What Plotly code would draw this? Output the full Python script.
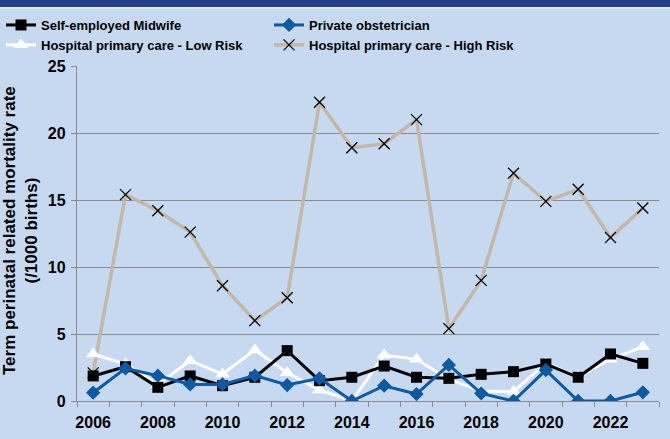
import plotly.graph_objects as go

years = list(range(2006, 2024))
midwife = [1.87, 2.56, 1.02, 1.87, 1.14, 1.77, 3.76, 1.52, 1.77, 2.61, 1.77, 1.69, 1.99, 2.19, 2.76, 1.77, 3.51, 2.81]
private_obst = [0.62, 2.44, 1.89, 1.24, 1.24, 1.89, 1.19, 1.69, 0.0, 1.14, 0.52, 2.69, 0.57, 0.0, 2.31, 0.0, 0.0, 0.65]
low_risk = [3.51, 2.76, 1.24, 3.01, 2.01, 3.81, 2.11, 0.82, 0.0, 3.43, 3.11, 1.62, 0.75, 0.70, 2.81, 1.82, 3.11, 4.05]
high_risk = [2.1, 15.4, 14.2, 12.6, 8.6, 6.0, 7.7, 22.3, 18.9, 19.2, 21.0, 5.4, 9.0, 17.0, 14.9, 15.8, 12.2, 14.4]
series_names = ["Self-employed Midwife", "Private obstetrician",
                "Hospital primary care - Low Risk", "Hospital primary care - High Risk"]
x_labels = [str(y) for y in range(2006, 2024, 2)]
y_ticks = [0, 5, 10, 15, 20, 25]
y_title = "Term perinatal related mortality rate<br>(/1000 births)"

BG = "#c6d9f0"
FONT = "Liberation Sans, Arial, sans-serif"

fig = go.Figure()
fig.add_trace(go.Scatter(x=years, y=high_risk, name=series_names[3], mode="lines+markers",
                         line=dict(color="#c4b7a8", width=3.5),
                         marker=dict(symbol="x-thin", size=11, line=dict(color="black", width=1.3)),
                         legendrank=4))
fig.add_trace(go.Scatter(x=years, y=low_risk, name=series_names[2], mode="lines+markers",
                         line=dict(color="white", width=3),
                         marker=dict(symbol="triangle-up", size=13, color="white"),
                         legendrank=3))
fig.add_trace(go.Scatter(x=years, y=midwife, name=series_names[0], mode="lines+markers",
                         line=dict(color="black", width=3),
                         marker=dict(symbol="square", size=11, color="black"),
                         legendrank=1))
fig.add_trace(go.Scatter(x=years, y=private_obst, name=series_names[1], mode="lines+markers",
                         line=dict(color="#0b5aa6", width=3),
                         marker=dict(symbol="diamond", size=11, color="#0b5aa6"),
                         legendrank=2))

plot_h = 401 - 66
plot_w = 659 - 77
def py(pix):
    return (401 - pix) / plot_h
def px(pix):
    return (pix - 77) / plot_w

fig.update_layout(
    width=670, height=439,
    margin=dict(l=77, r=11, t=66, b=38, autoexpand=False),
    paper_bgcolor=BG, plot_bgcolor=BG,
    font=dict(family=FONT, color="black"),
    showlegend=True,
    legend=dict(orientation="h", x=px(1), y=py(10),
                xanchor="left", yanchor="top", entrywidth=223, entrywidthmode="pixels",
                itemwidth=30, bgcolor="rgba(0,0,0,0)",
                font=dict(family=FONT, size=13, color="black", weight="bold"),
                traceorder="normal", tracegroupgap=0),
    xaxis=dict(range=[2005.5, 2023.5], tickvals=[int(v) for v in x_labels], ticktext=x_labels,
               ticks="", showgrid=False, zeroline=False, ticklabelstandoff=7,
               showline=True, linecolor="#8a8a8a", linewidth=1.3,
               tickfont=dict(size=16, family=FONT, weight="bold"),
               minor=dict(tick0=2005.5, dtick=1, ticks="outside", ticklen=5,
                          tickcolor="#8a8a8a", tickwidth=1.3, showgrid=False)),
    yaxis=dict(range=[0, 25], tickvals=y_ticks, ticks="outside", ticklen=5,
               tickcolor="#8a8a8a", tickwidth=1.3, ticklabelstandoff=2,
               showgrid=True, gridcolor="#8c8c8c", gridwidth=1.3, zeroline=False,
               showline=True, linecolor="#8a8a8a", linewidth=1.3,
               tickfont=dict(size=16, family=FONT, weight="bold")),
    annotations=[dict(text=y_title, textangle=-90, xref="paper", yref="paper",
                      x=px(20), y=py(231), xanchor="center", yanchor="middle",
                      showarrow=False, font=dict(size=17, family=FONT, weight="bold"))],
    shapes=[
        dict(type="rect", xref="paper", yref="paper", x0=-0.2, x1=1.1,
             y0=py(7), y1=py(-2), fillcolor="#21418a", line=dict(width=0), layer="above"),
        dict(type="rect", xref="paper", yref="paper", x0=-0.2, x1=1.1,
             y0=py(9), y1=py(7), fillcolor="#dce8f6", line=dict(width=0), layer="above"),
    ],
)

fig.write_html("out.html", config={"displayModeBar": False},
               post_script="document.body.style.margin='0px';")
